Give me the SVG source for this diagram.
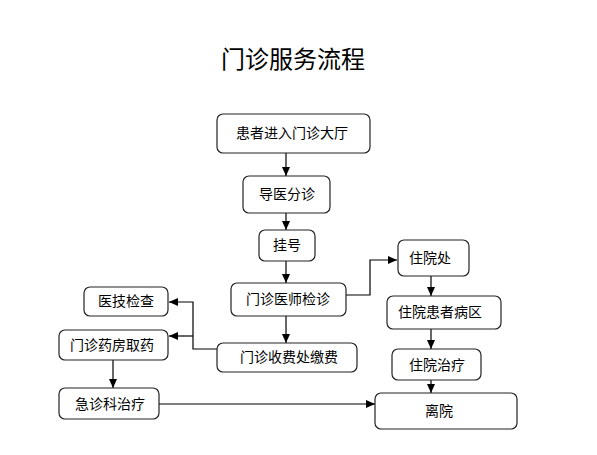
<svg xmlns="http://www.w3.org/2000/svg" width="597" height="455" viewBox="0 0 597 455">
<style>
.box{fill:#fff;stroke:#222;stroke-width:1.2}
.lbl{font-family:"Noto Sans CJK SC","Liberation Sans",sans-serif;font-size:14px;fill:#000;text-anchor:middle}
.ttl{font-family:"Noto Sans CJK SC","Liberation Sans",sans-serif;font-size:24px;fill:#000;text-anchor:middle}
.ln{fill:none;stroke:#000;stroke-width:1.2}
</style>
<defs>
<marker id="ah" markerWidth="10" markerHeight="8" refX="9" refY="4" orient="auto" markerUnits="userSpaceOnUse">
<path d="M0,0 L9,4 L0,8 Z" fill="#000"/>
</marker>
</defs>
<rect width="597" height="455" fill="#fff"/>
<text class="ttl" x="293" y="68">门诊服务流程</text>
<g id="connectors">
<path class="ln" marker-end="url(#ah)" d="M286,153 V176"/>
<path class="ln" marker-end="url(#ah)" d="M286,213 V230"/>
<path class="ln" marker-end="url(#ah)" d="M286,261 V283"/>
<path class="ln" marker-end="url(#ah)" d="M286,316 V343"/>
<path class="ln" marker-end="url(#ah)" d="M346,295 H370 V260 H397"/>
<path class="ln" marker-end="url(#ah)" d="M431,276 V296"/>
<path class="ln" marker-end="url(#ah)" d="M431,329 V349"/>
<path class="ln" marker-end="url(#ah)" d="M431,380 V393"/>
<path class="ln" marker-end="url(#ah)" d="M217,349 H193 V302 H169"/>
<path class="ln" marker-end="url(#ah)" d="M193,336 H169"/>
<path class="ln" marker-end="url(#ah)" d="M113,360 V388"/>
<path class="ln" marker-end="url(#ah)" d="M159,404 H375"/>
</g>
<g id="n1"><rect class="box" x="217" y="114" width="153" height="39" rx="6"/><text class="lbl" x="292" y="138">患者进入门诊大厅</text></g>
<g id="n2"><rect class="box" x="243" y="176" width="87" height="37" rx="6"/><text class="lbl" x="287" y="199">导医分诊</text></g>
<g id="n3"><rect class="box" x="259" y="230" width="56" height="31" rx="6"/><text class="lbl" x="287" y="250">挂号</text></g>
<g id="n4"><rect class="box" x="231" y="283" width="115" height="33" rx="6"/><text class="lbl" x="288" y="304">门诊医师检诊</text></g>
<g id="n5"><rect class="box" x="217" y="343" width="140" height="29" rx="6"/><text class="lbl" x="289" y="362">门诊收费处缴费</text></g>
<g id="n6"><rect class="box" x="84" y="287" width="84" height="29" rx="6"/><text class="lbl" x="126" y="306">医技检查</text></g>
<g id="n7"><rect class="box" x="59" y="330" width="109" height="30" rx="6"/><text class="lbl" x="112" y="350">门诊药房取药</text></g>
<g id="n8"><rect class="box" x="59" y="388" width="100" height="31" rx="6"/><text class="lbl" x="110" y="409">急诊科治疗</text></g>
<g id="n9"><rect class="box" x="398" y="240" width="71" height="36" rx="6"/><text class="lbl" x="430" y="263">住院处</text></g>
<g id="n10"><rect class="box" x="387" y="296" width="114" height="33" rx="6"/><text class="lbl" x="440" y="317">住院患者病区</text></g>
<g id="n11"><rect class="box" x="392" y="349" width="89" height="31" rx="6"/><text class="lbl" x="437" y="370">住院治疗</text></g>
<g id="n12"><rect class="box" x="375" y="393" width="142" height="36" rx="6"/><text class="lbl" x="439" y="416">离院</text></g>
</svg>
